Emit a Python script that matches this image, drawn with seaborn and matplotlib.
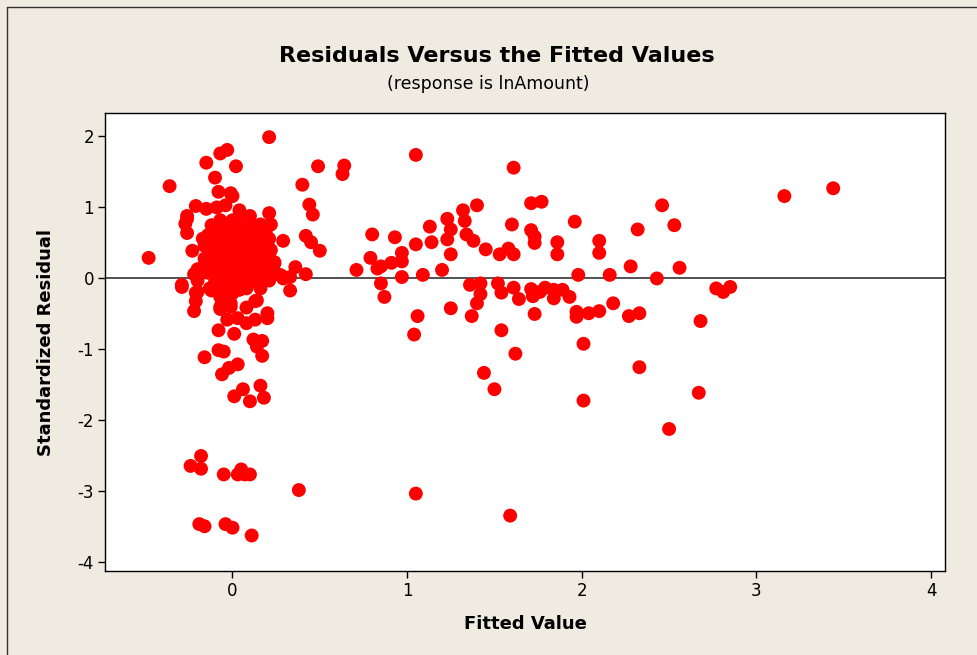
import numpy as np
import pandas as pd
import matplotlib
matplotlib.use("Agg")
import matplotlib.pyplot as plt
from matplotlib.lines import Line2D
import seaborn as sns

# ---- data ----
near_zero_upper_x = [0.21, -0.03, -0.07, -0.15, 0.02, 0.49, -0.36, -0.10, 0.40, -0.08, -0.01, 0.00, 0.44, 0.46,
                     -0.21, -0.15, -0.09, -0.04, 0.04, 0.10, 0.21, 0.22, -0.26, -0.27, -0.26, -0.23, -0.48, 0.29,
                     0.21, 0.42, 0.45, 0.50, 0.36, 0.42, -0.20, -0.17, -0.29, -0.20, 0.21, 0.24, 0.28, 0.33]
near_zero_upper_y = [1.98, 1.80, 1.75, 1.62, 1.57, 1.57, 1.29, 1.41, 1.31, 1.21, 1.19, 1.15, 1.03, 0.89,
                     1.01, 0.97, 0.99, 1.02, 0.95, 0.87, 0.91, 0.75, 0.87, 0.76, 0.63, 0.38, 0.28, 0.52,
                     0.55, 0.59, 0.50, 0.38, 0.15, 0.05, 0.12, 0.15, -0.10, -0.04, 0.35, 0.20, 0.03, 0.01]

near_zero_lower_x = [-0.29, -0.21, -0.21, -0.22, -0.12, -0.06, -0.01, -0.07, 0.02, 0.16, 0.13, 0.08, 0.33, -0.03,
                     0.03, 0.08, 0.13, 0.20, -0.08, 0.01, 0.12, 0.17, 0.14, 0.17, -0.08, -0.05, -0.16, 0.03,
                     -0.02, -0.06, 0.06, 0.01, 0.10, 0.16, 0.18]
near_zero_lower_y = [-0.13, -0.21, -0.33, -0.47, -0.18, -0.23, -0.36, -0.44, -0.15, -0.15, -0.33, -0.42, -0.18, -0.59,
                     -0.57, -0.64, -0.59, -0.57, -0.74, -0.79, -0.87, -0.89, -0.97, -1.10, -1.02, -1.04, -1.12, -1.22,
                     -1.27, -1.36, -1.57, -1.67, -1.74, -1.52, -1.69]

far_low_x = [-0.18, -0.24, -0.18, -0.05, 0.03, 0.05, 0.07, 0.10, 0.38, 1.05, -0.19, -0.16, -0.04, 0.00, 0.11, 1.59]
far_low_y = [-2.51, -2.65, -2.69, -2.77, -2.77, -2.70, -2.77, -2.77, -2.99, -3.04, -3.47, -3.50, -3.47, -3.52, -3.63, -3.35]

blob_edge_x = [0.29, 0.24, 0.27, 0.14, 0.20, 0.21, -0.26, -0.14, -0.12, -0.07, 0.00, 0.14, 0.18, -0.11,
               -0.13, -0.20, -0.07, 0.00, 0.08, 0.21, -0.01, -0.07, -0.17, -0.16, -0.22]
blob_edge_y = [-0.01, 0.22, 0.04, -0.32, -0.50, 0.74, 0.83, 0.60, 0.74, 0.81, 0.81, 0.72, 0.57, 0.22,
               -0.15, -0.20, -0.27, -0.22, -0.15, -0.04, -0.41, -0.41, 0.55, 0.45, 0.05]

blob_core_x = [-0.10, -0.04, 0.02, 0.08, 0.13,
               -0.11, -0.05, 0.01, 0.06, 0.12, 0.17,
               -0.12, -0.06, 0.00, 0.05, 0.11, 0.16, 0.20,
               -0.13, -0.07, -0.01, 0.04, 0.10, 0.15, 0.20,
               -0.08, -0.02, 0.03, 0.09, 0.14, 0.19,
               -0.14, -0.08, -0.03, 0.03, 0.08, 0.13, 0.18, 0.23,
               -0.10, -0.04, 0.02, 0.07, 0.12, 0.17,
               -0.05, 0.04,
               -0.07, -0.01, 0.05, 0.10, 0.16,
               -0.09, -0.03, 0.03, 0.09, 0.14, 0.19,
               -0.15, -0.10, -0.04, 0.02, 0.07, 0.13, 0.18,
               -0.11, -0.05, 0.01, 0.06, 0.12, 0.17, 0.22,
               -0.16, -0.11, -0.06, 0.00, 0.06, 0.11, 0.16, 0.21,
               -0.12, -0.06, 0.00, 0.05, 0.10, 0.15,
               -0.01, 0.10, 0.06]
blob_core_y = [0.70, 0.71, 0.69, 0.70, 0.68,
               0.58, 0.57, 0.59, 0.58, 0.57, 0.58,
               0.46, 0.45, 0.47, 0.46, 0.45, 0.46, 0.47,
               0.33, 0.34, 0.32, 0.33, 0.34, 0.33, 0.32,
               0.20, 0.21, 0.19, 0.20, 0.21, 0.20,
               0.07, 0.08, 0.06, 0.07, 0.08, 0.07, 0.06, 0.08,
               -0.06, -0.05, -0.07, -0.06, -0.05, -0.06,
               -0.16, -0.17,
               0.76, 0.75, 0.77, 0.76, 0.75,
               0.64, 0.63, 0.65, 0.64, 0.63, 0.64,
               0.52, 0.51, 0.52, 0.53, 0.51, 0.52, 0.51,
               0.40, 0.39, 0.40, 0.41, 0.39, 0.40, 0.39,
               0.27, 0.26, 0.27, 0.28, 0.26, 0.27, 0.26, 0.27,
               0.14, 0.13, 0.14, 0.15, 0.13, 0.14,
               0.00, 0.01, -0.11]

mid_x = [0.64, 0.63, 1.05, 1.61, 1.71, 1.77, 1.32, 1.40, 1.23, 1.33, 1.25, 1.60, 1.71, 1.73, 1.73, 1.13,
         0.80, 0.93, 1.05, 1.14, 1.23, 1.34, 1.38, 1.45, 1.25, 0.79, 0.97, 0.97, 0.91, 0.85, 0.83, 0.71,
         1.20, 0.97, 1.09, 0.85, 1.53, 1.58, 1.61, 1.36, 1.42, 1.52, 1.61, 1.71, 1.79,
         0.87, 1.06, 1.04, 1.25, 1.42, 1.40, 1.37, 1.54, 1.64, 1.72, 1.76, 1.73, 1.54, 1.62, 1.44, 1.50]
mid_y = [1.58, 1.46, 1.73, 1.55, 1.05, 1.07, 0.95, 1.02, 0.83, 0.80, 0.68, 0.75, 0.67, 0.58, 0.49, 0.72,
         0.61, 0.57, 0.47, 0.50, 0.54, 0.61, 0.52, 0.40, 0.33, 0.28, 0.35, 0.23, 0.21, 0.16, 0.13, 0.11,
         0.11, 0.01, 0.04, -0.08, 0.33, 0.41, 0.33, -0.10, -0.08, -0.08, -0.14, -0.16, -0.14,
         -0.27, -0.54, -0.80, -0.43, -0.23, -0.36, -0.54, -0.21, -0.30, -0.26, -0.20, -0.51, -0.74, -1.07, -1.34, -1.57]

right_x = [1.96, 1.86, 1.86, 2.10, 2.10, 2.32, 2.46, 2.53, 2.28, 2.56, 1.98, 2.16, 2.43, 3.16, 3.44,
           2.77, 2.81, 2.85, 1.84, 1.89, 1.84, 1.93, 1.97, 1.97, 2.04, 2.10, 2.18, 2.27, 2.33,
           2.01, 2.33, 2.01, 2.68, 2.67, 2.50]
right_y = [0.79, 0.50, 0.33, 0.52, 0.35, 0.68, 1.02, 0.74, 0.16, 0.14, 0.04, 0.04, -0.01, 1.15, 1.26,
           -0.15, -0.20, -0.13, -0.17, -0.17, -0.29, -0.27, -0.48, -0.55, -0.50, -0.47, -0.36, -0.54, -0.50,
           -0.93, -1.26, -1.73, -0.61, -1.62, -2.13]

fitted = (near_zero_upper_x + near_zero_lower_x + far_low_x + blob_edge_x + blob_core_x + mid_x + right_x)
resid = (near_zero_upper_y + near_zero_lower_y + far_low_y + blob_edge_y + blob_core_y + mid_y + right_y)
df = pd.DataFrame({"Fitted Value": fitted, "Standardized Residual": resid})

title = "Residuals Versus the Fitted Values"
subtitle = "(response is lnAmount)"
x_ticks = [0, 1, 2, 3, 4]
y_ticks = [-4, -3, -2, -1, 0, 1, 2]

# ---- style ----
sns.set_theme(style="ticks")
plt.rcParams["font.family"] = ["DejaVu Sans"]
plt.rcParams["axes.unicode_minus"] = False
bg = "#EFEBE1"

fig = plt.figure(figsize=(9.77, 6.55), dpi=100, facecolor=bg)
ax = fig.add_axes([105 / 977, 1 - 571 / 655, (945 - 105) / 977, (571 - 113) / 655])
ax.set_facecolor("white")

ax.axhline(0, color="#333333", lw=1.2, zorder=1)
sns.scatterplot(data=df, x="Fitted Value", y="Standardized Residual", ax=ax,
                color="#FF0000", s=100, edgecolor="none", linewidth=0, zorder=3)

ax.set_xlim(-0.73, 4.08)
ax.set_ylim(-4.13, 2.32)
ax.set_xticks(x_ticks)
ax.set_yticks(y_ticks)
ax.tick_params(axis="both", direction="out", length=5, width=1, color="black",
               labelsize=12, labelcolor="black", pad=3)
for sp in ax.spines.values():
    sp.set_visible(True)
    sp.set_color("black")
    sp.set_linewidth(1.0)

ax.set_xlabel("Fitted Value", fontsize=13, fontweight="bold", color="black", labelpad=11)
ax.set_ylabel("Standardized Residual", fontsize=13, fontweight="bold", color="black", labelpad=16)

fig.text(0.508, 1 - 56 / 655, title, ha="center", va="center", fontsize=16, fontweight="bold", color="black")
fig.text(0.5, 1 - 84 / 655, subtitle, ha="center", va="center", fontsize=12.5, color="black")

# outer frame (left and top edges visible)
fig.add_artist(Line2D([7 / 977, 7 / 977], [0, 1 - 7 / 655], transform=fig.transFigure, color="#333333", lw=1))
fig.add_artist(Line2D([7 / 977, 1], [1 - 7 / 655, 1 - 7 / 655], transform=fig.transFigure, color="#333333", lw=1))

fig.savefig("out.png", dpi=100, facecolor=bg)
